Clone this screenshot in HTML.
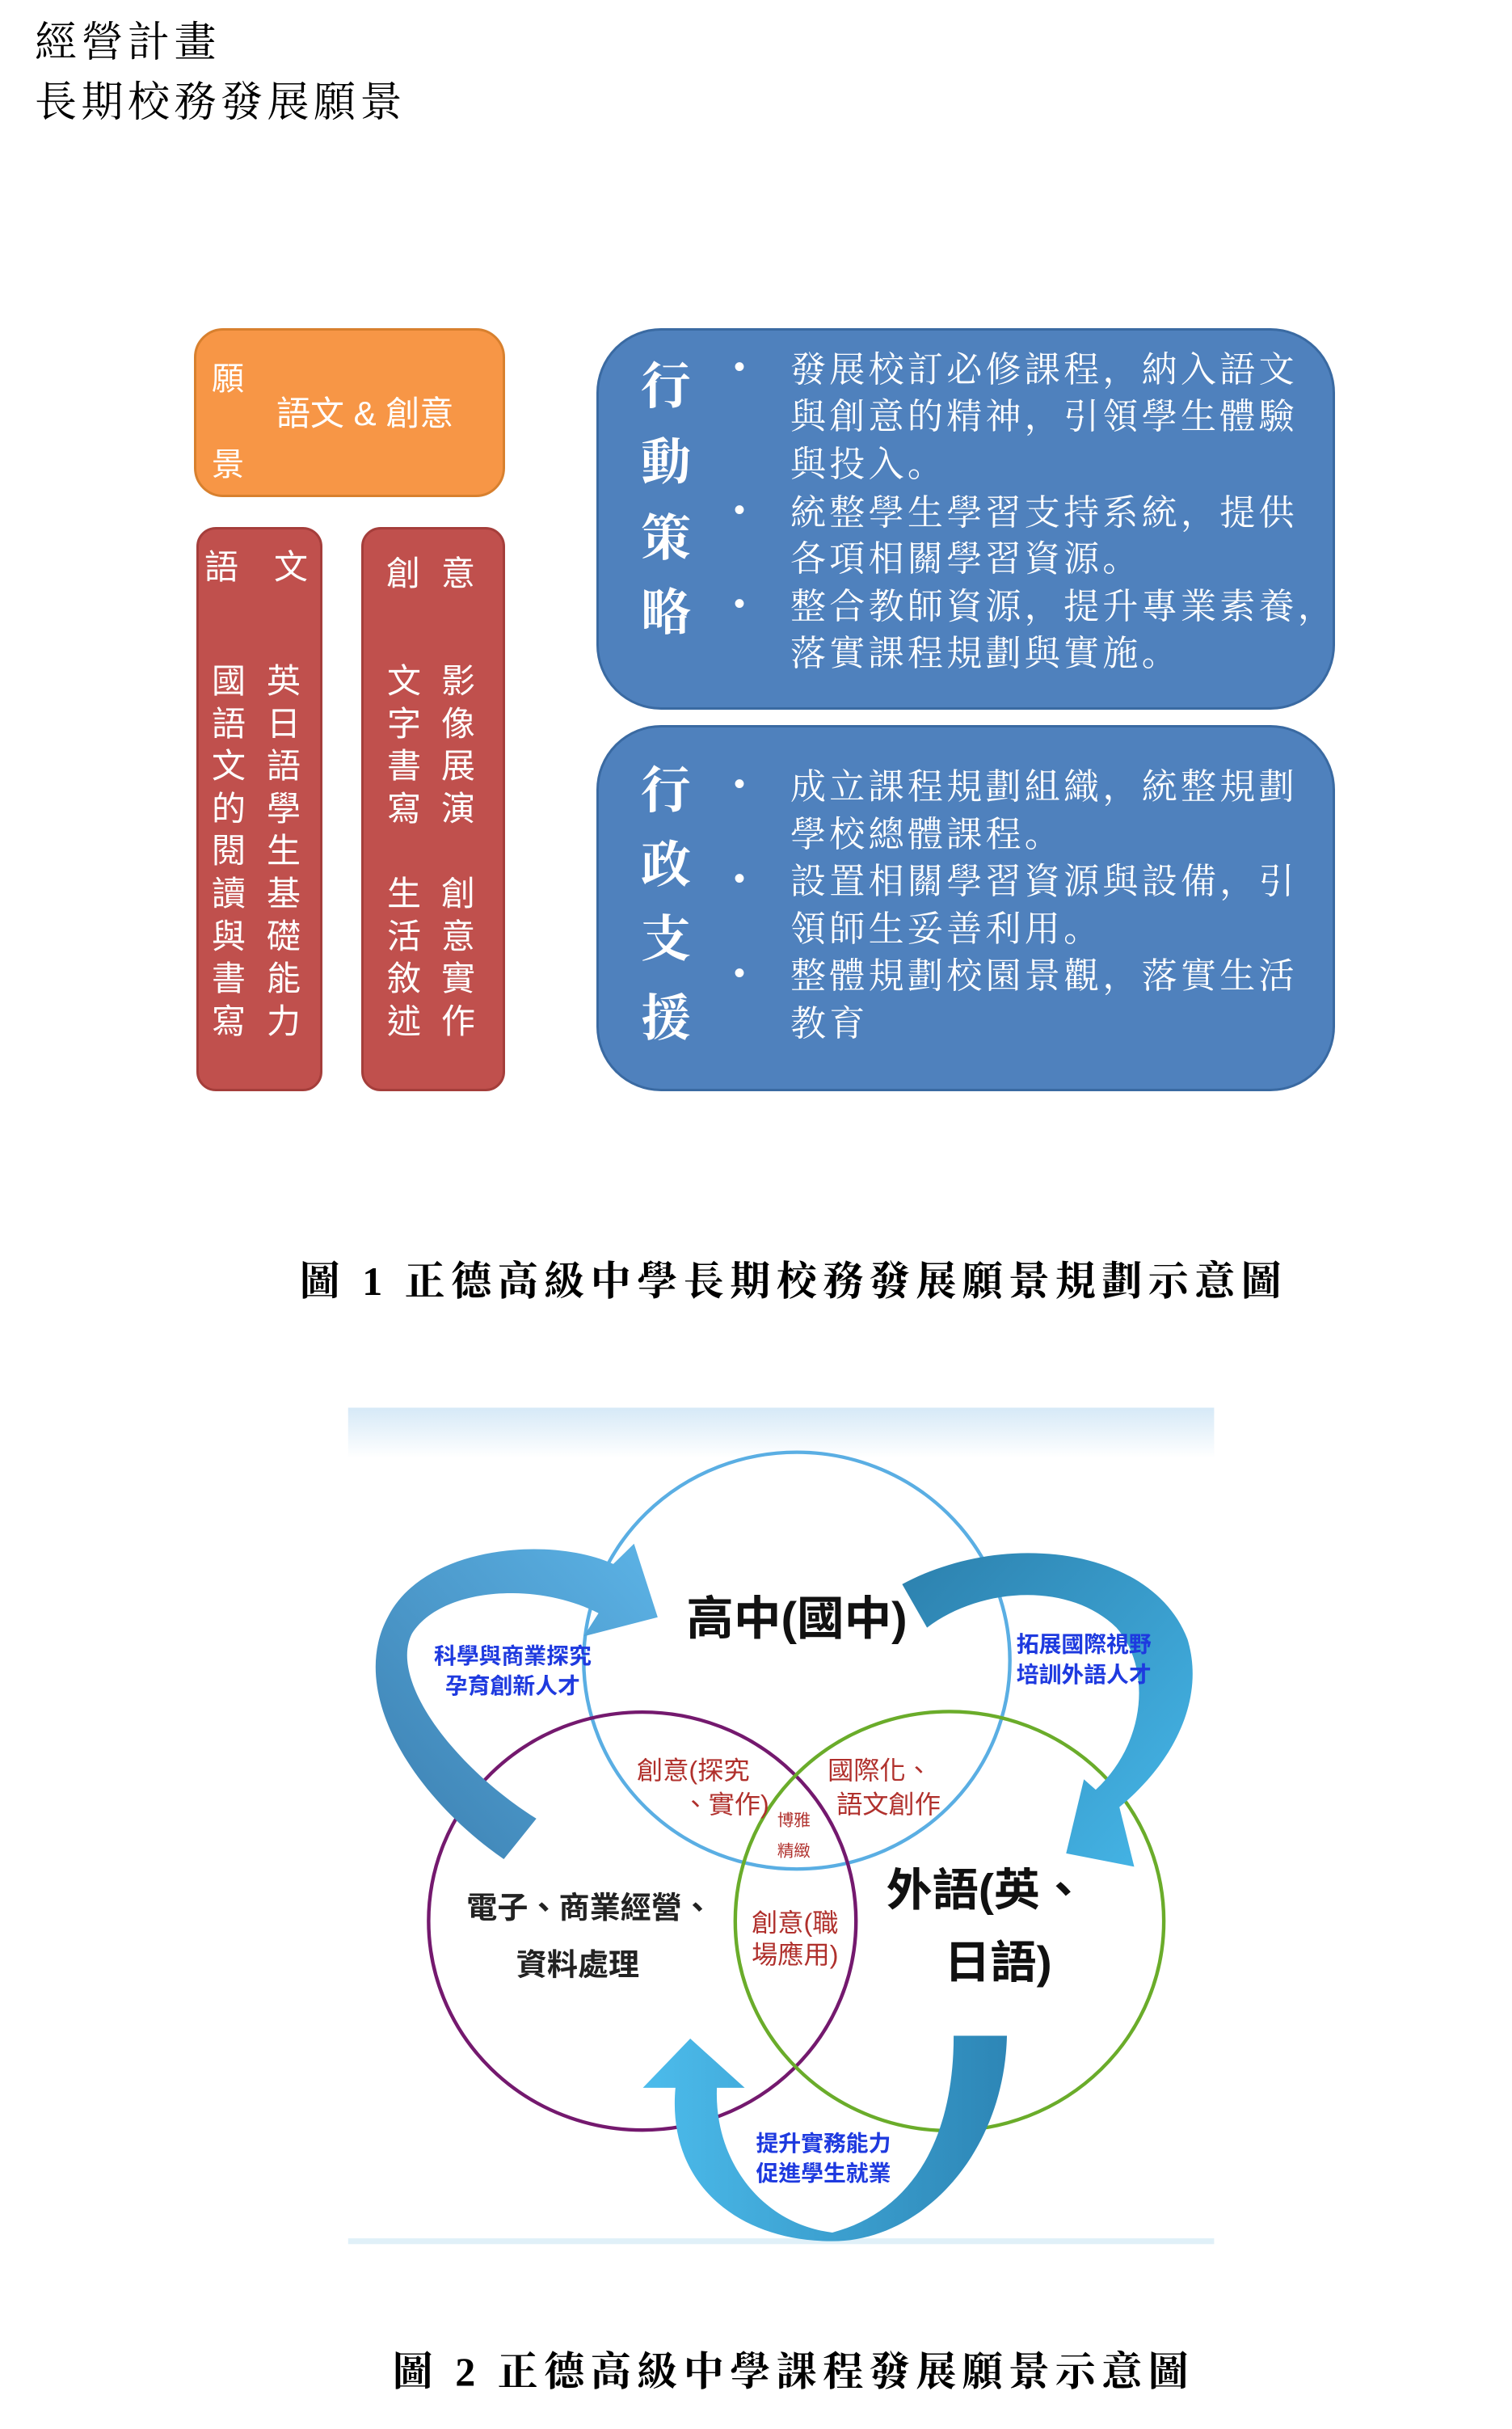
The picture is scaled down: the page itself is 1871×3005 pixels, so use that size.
<!DOCTYPE html>
<html><head><meta charset="utf-8">
<style>
body{margin:0;width:1871px;height:3005px;background:#fff;position:relative;overflow:hidden;font-family:"Liberation Serif","Noto Serif CJK SC",serif;}
.a{position:absolute;}
.hd{font-size:52px;letter-spacing:5.5px;line-height:60px;color:#000;left:43px;}
.box{position:absolute;box-sizing:border-box;}
.w{color:#fff;}
.col{position:absolute;width:60px;text-align:center;font-family:"Liberation Sans","Noto Sans CJK TC",sans-serif;font-size:42px;line-height:52.6px;color:#fff;}
.ttl{position:absolute;font-size:62px;font-weight:bold;color:#fff;width:80px;text-align:center;}
.ln{position:absolute;left:978px;font-size:44px;letter-spacing:4.3px;color:#fff;white-space:nowrap;line-height:58px;}
.bl{position:absolute;left:908px;font-size:40px;color:#fff;line-height:58px;font-family:"Liberation Sans",sans-serif;}
.cap{position:absolute;left:0;width:1964px;text-align:center;font-size:50px;font-weight:bold;letter-spacing:7.5px;}
</style></head><body>
<div class="a hd" style="top:24px">經營計畫</div>
<div class="a hd" style="top:98px">長期校務發展願景</div>

<!-- orange -->
<div class="box" style="left:240px;top:406px;width:385px;height:209px;background:#f79646;border:3px solid #d8802e;border-radius:36px;"></div>
<div class="a w" style="left:262px;top:436px;font-size:40px;font-family:'Liberation Sans','Noto Sans CJK TC',sans-serif;">願</div>
<div class="a w" style="left:262px;top:542px;font-size:40px;font-family:'Liberation Sans','Noto Sans CJK TC',sans-serif;">景</div>
<div class="a w" style="left:342px;top:478px;font-size:42px;font-family:'Liberation Sans','Noto Sans CJK TC',sans-serif;">語文 &amp; 創意</div>

<!-- red 1 -->
<div class="box" style="left:243px;top:652px;width:156px;height:698px;background:#c0504d;border:3px solid #a53e3b;border-radius:24px;"></div>
<div class="col" style="left:244px;top:676px;">語</div>
<div class="col" style="left:330px;top:676px;">文</div>
<div class="col" style="left:253px;top:817px;">國<br>語<br>文<br>的<br>閱<br>讀<br>與<br>書<br>寫</div>
<div class="col" style="left:321px;top:817px;">英<br>日<br>語<br>學<br>生<br>基<br>礎<br>能<br>力</div>
<!-- red 2 -->
<div class="box" style="left:447px;top:652px;width:178px;height:698px;background:#c0504d;border:3px solid #a53e3b;border-radius:24px;"></div>
<div class="col" style="left:469px;top:684px;">創</div>
<div class="col" style="left:537px;top:684px;">意</div>
<div class="col" style="left:470px;top:817px;">文<br>字<br>書<br>寫<br>&nbsp;<br>生<br>活<br>敘<br>述</div>
<div class="col" style="left:537px;top:817px;">影<br>像<br>展<br>演<br>&nbsp;<br>創<br>意<br>實<br>作</div>

<!-- blue 1 -->
<div class="box" style="left:738px;top:406px;width:914px;height:472px;background:#4f81bd;border:3px solid #3a6aa2;border-radius:80px;"></div>
<div class="ttl" style="left:784px;top:428px;">行</div>
<div class="ttl" style="left:784px;top:522px;">動</div>
<div class="ttl" style="left:784px;top:616px;">策</div>
<div class="ttl" style="left:784px;top:708px;">略</div>
<div class="bl" style="top:425px">•</div>
<div class="bl" style="top:602px">•</div>
<div class="bl" style="top:718px">•</div>
<div class="ln" style="top:429px">發展校訂必修課程，納入語文</div>
<div class="ln" style="top:487px">與創意的精神，引領學生體驗</div>
<div class="ln" style="top:546px">與投入。</div>
<div class="ln" style="top:606px">統整學生學習支持系統，提供</div>
<div class="ln" style="top:663px">各項相關學習資源。</div>
<div class="ln" style="top:722px">整合教師資源，提升專業素養，</div>
<div class="ln" style="top:780px">落實課程規劃與實施。</div>

<!-- blue 2 -->
<div class="box" style="left:738px;top:897px;width:914px;height:453px;background:#4f81bd;border:3px solid #3a6aa2;border-radius:80px;"></div>
<div class="ttl" style="left:784px;top:928px;">行</div>
<div class="ttl" style="left:784px;top:1020px;">政</div>
<div class="ttl" style="left:784px;top:1112px;">支</div>
<div class="ttl" style="left:784px;top:1210px;">援</div>
<div class="bl" style="top:941px">•</div>
<div class="bl" style="top:1058px">•</div>
<div class="bl" style="top:1175px">•</div>
<div class="ln" style="top:945px">成立課程規劃組織，統整規劃</div>
<div class="ln" style="top:1004px">學校總體課程。</div>
<div class="ln" style="top:1062px">設置相關學習資源與設備，引</div>
<div class="ln" style="top:1121px">領師生妥善利用。</div>
<div class="ln" style="top:1179px">整體規劃校園景觀，落實生活</div>
<div class="ln" style="top:1238px">教育</div>

<div class="cap" style="top:1545px;">圖 1 正德高級中學長期校務發展願景規劃示意圖</div>

<!-- figure 2 -->
<svg class="a" style="left:400px;top:1720px" width="1150" height="1120" viewBox="0 0 1570 1564" preserveAspectRatio="none">
<defs>
<linearGradient id="bg" x1="0" y1="0" x2="0" y2="1"><stop offset="0" stop-color="#d6e9f7"/><stop offset="0.06" stop-color="#fff"/><stop offset="1" stop-color="#fff"/></linearGradient>
<linearGradient id="g1" x1="0" y1="1" x2="1" y2="0"><stop offset="0" stop-color="#3c7fb0"/><stop offset="1" stop-color="#5cb3e6"/></linearGradient>
<linearGradient id="g2" x1="0" y1="0" x2="1" y2="1"><stop offset="0" stop-color="#2c80ad"/><stop offset="1" stop-color="#46b8ea"/></linearGradient>
<linearGradient id="g3" x1="1" y1="0" x2="0" y2="0"><stop offset="0" stop-color="#2d86b6"/><stop offset="1" stop-color="#4cbcec"/></linearGradient>
</defs>
<rect x="42" y="30" width="1463" height="1445" fill="url(#bg)"/>
<rect x="42" y="1465" width="1463" height="10" fill="#e0f0f8"/>
<circle cx="800" cy="467" r="360" fill="none" stroke="#5aaee3" stroke-width="6"/>
<circle cx="539" cy="917" r="361" fill="none" stroke="#74196e" stroke-width="6"/>
<circle cx="1058" cy="917" r="362" fill="none" stroke="#6aac2a" stroke-width="6"/>
<path d="M305 810 C150 700,40 520,110 390 C170 270,380 250,490 300 L525 265 L565 392 L440 425 L465 385 C360 330,200 340,150 420 C110 500,220 650,360 740 Z" fill="url(#g1)"/>
<path d="M978 335 C1150 240,1400 270,1460 430 C1490 530,1440 640,1345 720 L1370 823 L1255 800 L1285 672 L1305 690 C1390 610,1400 480,1340 410 C1260 330,1110 340,1020 410 Z" fill="url(#g2)"/>
<path d="M1065 1115 L1155 1115 C1150 1320,1010 1470,860 1470 C700 1470,580 1370,595 1205 L540 1205 L620 1120 L712 1205 L665 1205 C660 1330,740 1440,860 1455 C990 1420,1065 1300,1065 1115 Z" fill="url(#g3)"/>
<g font-family="Liberation Sans, Noto Sans CJK TC, sans-serif" text-anchor="middle">
<text x="800" y="422" font-size="80" font-weight="bold" fill="#111">高中(國中)</text>
<text x="1120" y="890" font-size="78" font-weight="bold" fill="#111">外語(英、</text>
<text x="1140" y="1015" font-size="78" font-weight="bold" fill="#111">日語)</text>
<text x="450" y="912" font-size="52" font-weight="bold" fill="#222">電子、商業經營、</text>
<text x="430" y="1010" font-size="52" font-weight="bold" fill="#222">資料處理</text>
<g fill="#b0302c" font-size="44">
<text x="625" y="672">創意(探究</text>
<text x="680" y="730">、實作)</text>
<text x="940" y="672">國際化、</text>
<text x="955" y="730">語文創作</text>
<text x="797" y="935">創意(職</text>
<text x="797" y="990">場應用)</text>
<text x="795" y="752" font-size="28">博雅</text>
<text x="795" y="805" font-size="28">精緻</text>
</g>
<g fill="#1e3adf" font-size="38" font-weight="bold">
<text x="320" y="472">科學與商業探究</text>
<text x="320" y="524">孕育創新人才</text>
<text x="1285" y="452">拓展國際視野</text>
<text x="1285" y="504">培訓外語人才</text>
<text x="845" y="1314">提升實務能力</text>
<text x="845" y="1366">促進學生就業</text>
</g>
</g>
</svg>

<div class="cap" style="top:2894px;">圖 2 正德高級中學課程發展願景示意圖</div>
</body></html>
